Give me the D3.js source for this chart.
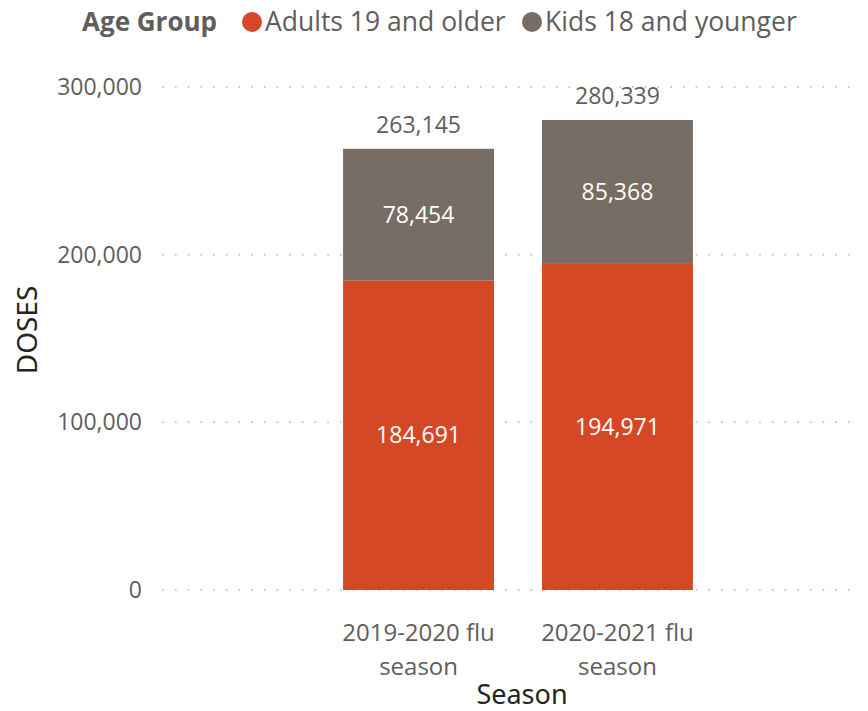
<!DOCTYPE html>
<html>
<head>
<meta charset="utf-8">
<script src="https://cdn.jsdelivr.net/npm/d3@7"></script>
<style>
  html, body { margin: 0; padding: 0; background: #fff; }
  svg { display: block; }
  text { font-family: "Open Sans", "Noto Sans", sans-serif; }
</style>
</head>
<body>
<svg id="chart" width="868" height="711"></svg>
<script>
// Flu vaccine doses by season, split by age group
const seasons = ["2019-2020 flu season", "2020-2021 flu season"];
const seasonLines = [["2019-2020 flu", "season"], ["2020-2021 flu", "season"]];
const groups = ["Adults 19 and older", "Kids 18 and younger"];
const adults = [184691, 194971];
const kids = [78454, 85368];
const yTicks = [0, 100000, 200000, 300000];
const colors = ["#D54826", "#786D64"];

const svg = d3.select("#chart");
const plot = { left: 163, right: 858, top: 87, bottom: 590 };

const x = d3.scaleBand()
  .domain(seasons)
  .range([319, 717])
  .paddingInner(0.241)
  .paddingOuter(0.121);

const y = d3.scaleLinear()
  .domain([0, 300000])
  .range([plot.bottom, plot.top]);

const fmt = d3.format(",");

// Dotted gridlines
const grid = svg.append("g");
yTicks.forEach(t => {
  grid.append("line")
    .attr("x1", plot.left).attr("x2", plot.right)
    .attr("y1", y(t)).attr("y2", y(t))
    .attr("stroke", "#c8c6c4")
    .attr("stroke-width", 2)
    .attr("stroke-linecap", "round")
    .attr("stroke-dasharray", "0.1 12.6");
});

// Y axis tick labels
const yAxis = d3.axisLeft(y).tickValues(yTicks).tickFormat(fmt).tickSize(0).tickPadding(0);
const yg = svg.append("g").attr("transform", "translate(142,0)").call(yAxis);
yg.select(".domain").remove();
yg.selectAll("text")
  .attr("fill", "#605e5c")
  .style("font-size", "23px")
  .style("font-family", "\"Open Sans\", sans-serif");

// Stacked data
const rows = seasons.map((s, i) => ({ season: s, adults: adults[i], kids: kids[i] }));
const stack = d3.stack().keys(["adults", "kids"]);
const series = stack(rows);

const bars = svg.append("g");
series.forEach((ser, si) => {
  bars.selectAll(null)
    .data(ser)
    .enter()
    .append("rect")
    .attr("x", d => x(d.data.season))
    .attr("width", x.bandwidth())
    .attr("y", d => y(d[1]))
    .attr("height", d => y(d[0]) - y(d[1]))
    .attr("fill", colors[si]);

  // Segment value labels
  bars.selectAll(null)
    .data(ser)
    .enter()
    .append("text")
    .attr("x", d => x(d.data.season) + x.bandwidth() / 2)
    .attr("y", d => (y(d[0]) + y(d[1])) / 2)
    .attr("dy", "0.35em")
    .attr("text-anchor", "middle")
    .attr("fill", "#ffffff")
    .style("font-size", "23px")
    .text(d => fmt(d[1] - d[0]));
});

// Totals above bars
svg.append("g").selectAll("text")
  .data(rows)
  .enter()
  .append("text")
  .attr("x", d => x(d.season) + x.bandwidth() / 2)
  .attr("y", d => y(d.adults + d.kids) - 24)
  .attr("dy", "0.35em")
  .attr("text-anchor", "middle")
  .attr("fill", "#605e5c")
  .style("font-size", "23px")
  .text(d => fmt(d.adults + d.kids));

// Category labels (two lines)
const xg = svg.append("g");
seasons.forEach((s, i) => {
  const cx = x(s) + x.bandwidth() / 2;
  const t = xg.append("text")
    .attr("text-anchor", "middle")
    .attr("fill", "#605e5c")
    .style("font-size", "24px");
  seasonLines[i].forEach((line, j) => {
    t.append("tspan")
      .attr("x", cx)
      .attr("y", 633 + j * 34)
      .attr("dy", "0.35em")
      .text(line);
  });
});

// Axis titles
svg.append("text")
  .attr("x", 522).attr("y", 695)
  .attr("dy", "0.35em")
  .attr("text-anchor", "middle")
  .attr("fill", "#252423")
  .style("font-size", "27px")
  .style("font-family", "\"Noto Sans\", sans-serif")
  .text("Season");

svg.append("text")
  .attr("transform", "translate(27,330) rotate(-90)")
  .attr("dy", "0.35em")
  .attr("text-anchor", "middle")
  .attr("fill", "#252423")
  .style("font-size", "28px")
  .style("font-family", "\"Noto Sans\", sans-serif")
  .text("DOSES");

// Legend
const legend = svg.append("g");
legend.append("text")
  .attr("x", 82).attr("y", 22)
  .attr("dy", "0.35em")
  .attr("fill", "#605e5c")
  .style("font-size", "26px")
  .style("font-weight", "bold")
  .text("Age Group");

const legendX = [252, 532];
groups.forEach((g, i) => {
  legend.append("circle")
    .attr("cx", legendX[i]).attr("cy", 22)
    .attr("r", 10)
    .attr("fill", colors[i]);
  legend.append("text")
    .attr("x", legendX[i] + 13).attr("y", 22)
    .attr("dy", "0.35em")
    .attr("fill", "#605e5c")
    .style("font-size", "26.5px")
    .text(g);
});
</script>
</body>
</html>
